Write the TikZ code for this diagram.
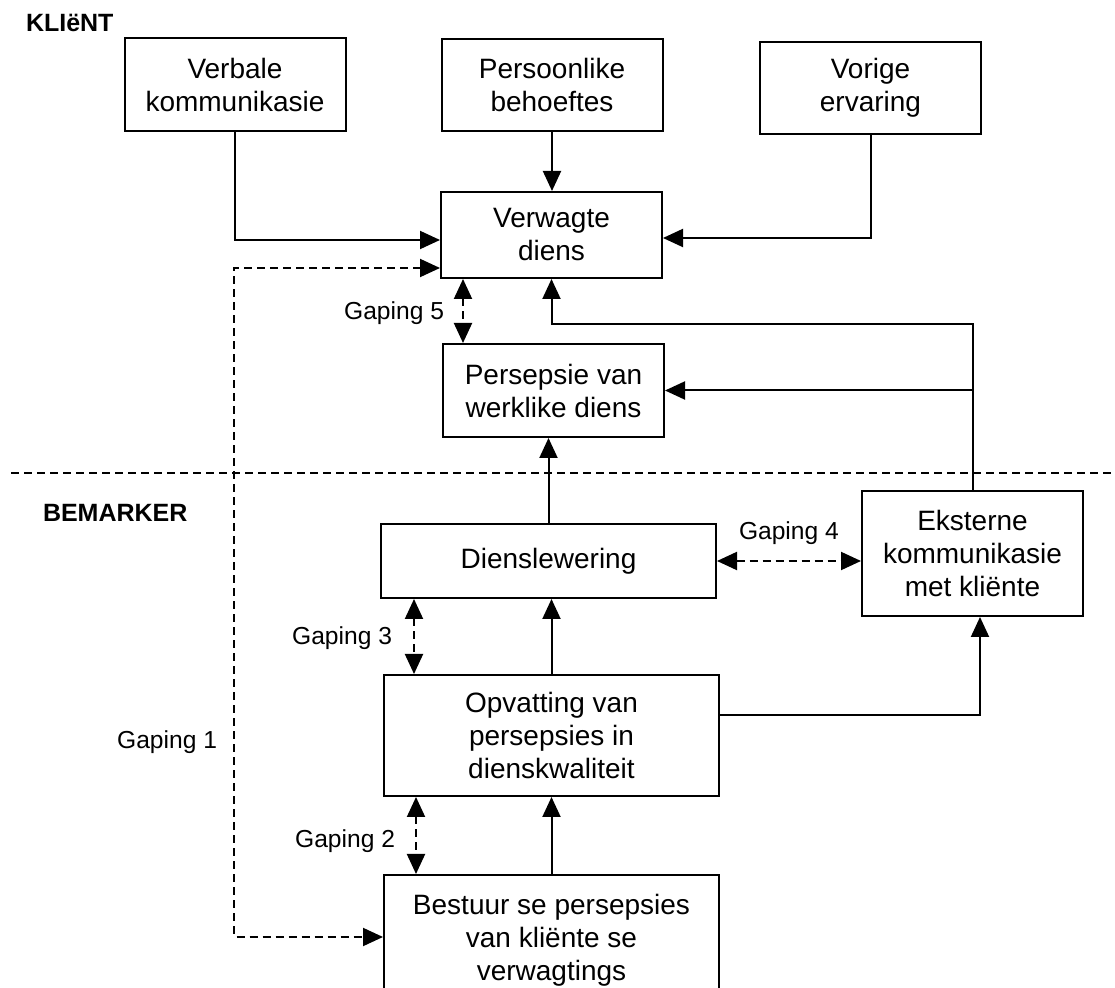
\documentclass[tikz,border=0pt]{standalone}
\usepackage{fontspec}
\setmainfont{Liberation Sans}
\usetikzlibrary{arrows.meta}

\begin{document}
\begin{tikzpicture}[x=0.5pt, y=-0.5pt, line width=1pt,
  box/.style={draw, inner sep=0pt, align=center, font=\fontsize{14}{16.5}\selectfont},
  smallbox/.style={box, minimum width=110.5pt},
  widebox/.style={box, minimum width=167.5pt},
  arr/.style={-{Triangle[length=10pt,width=9pt]}},
  gaparr/.style={{Triangle[length=10pt,width=9pt]}-{Triangle[length=10pt,width=9pt]}, dash pattern=on 4pt off 2.5pt},
  gaplabel/.style={inner sep=0pt, font=\fontsize{12.3}{14}\selectfont},
  sidelabel/.style={inner sep=0pt, font=\fontsize{12.5}{15}\selectfont\bfseries}]
  \clip (0,0) rectangle (1115,988);
  % klient
  \node[sidelabel, anchor=base west] (klient) at (25,32) {KLIëNT};
  \node[smallbox, minimum height=46.5pt] (verb) at (235,85) {Verbale\\kommunikasie};
  \node[smallbox, minimum height=46pt] (pers) at (552,85) {Persoonlike\\behoeftes};
  \node[smallbox, minimum height=46pt] (vorig) at (870.5,88) {Vorige\\ervaring};
  \node[smallbox, minimum height=43pt] (verw) at (551.5,235) {Verwagte\\diens};
  \node[smallbox, minimum height=46.5pt] (waarn) at (553.5,390.5) {Persepsie van\\werklike diens};
  % bemarker
  \node[sidelabel, anchor=base west] (bemarker) at (42,522) {BEMARKER};
  \node[widebox, minimum height=37pt] (diens) at (548.5,561) {Dienslewering};
  \node[smallbox, minimum height=62.5pt] (ekst) at (972.5,553.5) {Eksterne\\kommunikasie\\met kliënte};
  \node[widebox, minimum height=60.5pt] (opv) at (551.5,735.5) {Opvatting van\\persepsies in\\dienskwaliteit};
  \node[widebox, minimum height=65pt] (best) at (551.5,940) {Bestuur se persepsies\\van kliënte se\\verwagtings};
  % gapings
  \node[gaplabel, anchor=base east] (gap1) at (218,749) {Gaping 1};
  \node[gaplabel, anchor=base east] (gap2) at (396,848) {Gaping 2};
  \node[gaplabel, anchor=base east] (gap3) at (393,645) {Gaping 3};
  \node[gaplabel, anchor=base west] (gap4) at (738,540) {Gaping 4};
  \node[gaplabel, anchor=base east] (gap5) at (445,320) {Gaping 5};

  \draw[dash pattern=on 4pt off 2.5pt] (11,473) -- (1115,473); % skeiding
  \draw[arr] (verb.south) |- ([yshift=-2.5pt]verw.west);
  \draw[arr] (pers.south) -- (pers.south |- verw.north);
  \draw[arr] (vorig.south) |- ([yshift=-1.5pt]verw.east);
  \coordinate (turn) at (972.5,324);
  \draw[arr] (ekst.north) -- (turn) -| (verw.south);
  \draw[arr] (ekst.north |- waarn.east) -- (waarn.east);
  \draw[arr] (diens.north) -- (diens.north |- waarn.south);
  \draw[arr] (opv.north) -- (opv.north |- diens.south);
  \draw[arr] (best.north) -- (best.north |- opv.south);
  \draw[arr] ([yshift=10pt]opv.east) -| ([xshift=3.75pt]ekst.south);
  \coordinate (g1a) at (234,268);
  \coordinate (g1b) at (234,937);
  \draw[gaparr] (verw.west |- g1a) -- (g1a) -- (g1b) -- (best.west |- g1b);
  \draw[gaparr] ([xshift=16.5pt]opv.south west) -- ([xshift=16.5pt]opv.south west |- best.north);
  \draw[gaparr] ([xshift=17pt]diens.south west) -- ([xshift=17pt]diens.south west |- opv.north);
  \draw[gaparr] (diens.east) -- (diens.east -| ekst.west);
  \draw[gaparr] ([xshift=11.5pt]verw.south west) -- ([xshift=11.5pt]verw.south west |- waarn.north);
\end{tikzpicture}
\end{document}
